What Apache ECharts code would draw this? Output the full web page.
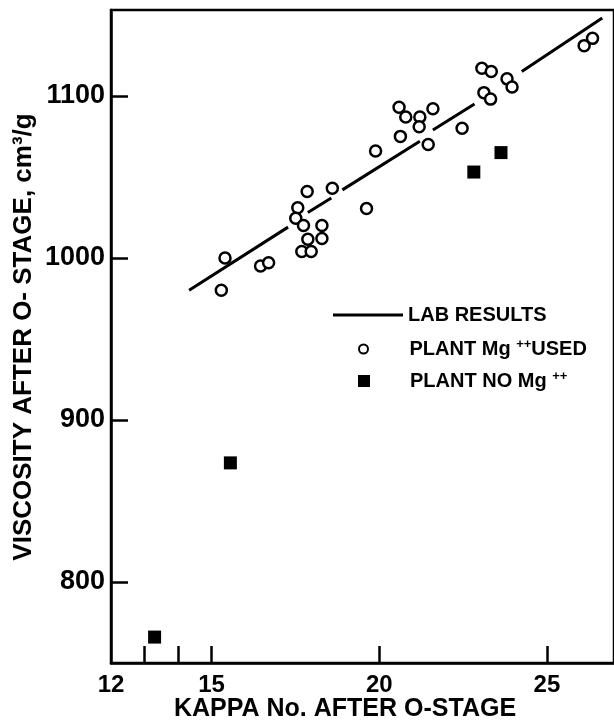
<!DOCTYPE html>
<html>
<head>
<meta charset="utf-8" />
<title>Viscosity after O-stage</title>
<script src="https://cdn.jsdelivr.net/npm/echarts@6/dist/echarts.min.js"></script>
<style>
  html, body { margin: 0; padding: 0; background: #fff; }
  #main { width: 614px; height: 722px; }
</style>
</head>
<body>
<div id="main"></div>
<script type="text/javascript">
// values (kappa no. / viscosity cm3/g)
var plantMgKappa = [15.40, 15.29, 16.46, 16.70, 17.85, 18.60, 17.57, 17.51, 17.74, 18.29,
                    17.87, 18.29, 17.69, 17.97, 19.62, 19.89, 20.63, 21.46, 20.59, 20.79,
                    21.21, 21.19, 21.60, 22.47, 23.06, 23.34, 23.12, 23.32, 23.81, 23.96,
                    26.11, 26.36];
var plantMgVisc  = [1000, 980, 995, 997, 1041, 1043, 1031, 1024.5, 1020, 1020,
                    1011.5, 1012, 1004, 1004, 1030.5, 1066, 1075, 1070, 1093, 1087,
                    1087, 1081, 1092, 1080, 1117, 1115, 1102, 1098, 1110.5, 1105.5,
                    1131, 1135.5];
var plantNoMgKappa = [13.30, 15.56, 22.82, 23.63];
var plantNoMgVisc  = [766, 873.5, 1053, 1065];
// lab line, drawn as pieces (start/end pairs) with breaks where it runs through the circles
var labKappa = [14.33, 17.28, 17.87, 18.57, 18.90, 21.21, 21.60, 22.84, 24.25, 26.65];
var labVisc  = [980, 1019, 1028, 1037, 1042, 1072, 1079, 1095, 1115, 1148];

var xTicks = [13, 14, 15, 20, 25];
var xLabels = [12, 15, 20, 25];
var yTicks = [800, 900, 1000, 1100];

var FONT = "'Liberation Sans', Arial, sans-serif";

function pairs(xs, ys) {
    var res = [];
    for (var i = 0; i < xs.length; i++) res.push([xs[i], ys[i]]);
    return res;
}

var labData = [];
for (var i = 0; i < labKappa.length; i += 2) {
    labData.push([labKappa[i], labVisc[i]]);
    labData.push([labKappa[i + 1], labVisc[i + 1]]);
    if (i + 2 < labKappa.length) labData.push([labKappa[i + 1], '-']);
}

var myChart = echarts.init(document.getElementById('main'), null, { renderer: 'canvas' });

var legendText = { fontFamily: FONT, fontSize: 20, fontWeight: 'bold', color: '#000',
    rich: {
        t: { fontFamily: FONT, fontSize: 20, fontWeight: 'bold', color: '#000', lineHeight: 22 },
        s: { fontFamily: FONT, fontSize: 13, fontWeight: 'bold', color: '#000', lineHeight: 12, verticalAlign: 'top' }
    }
};
function legendFmt(name) {
    if (name === 'PLANT Mg++USED') return '{t|PLANT Mg }{s|++}{t|USED}';
    if (name === 'PLANT NO Mg++') return '{t|PLANT NO Mg }{s|++}';
    return '{t|' + name + '}';
}

option = {
    backgroundColor: '#fff',
    animation: false,
    grid: {
        left: 111,
        right: -3,
        top: 10,
        bottom: 59,
        show: true,
        borderColor: '#000',
        borderWidth: 2.5
    },
    legend: [
        {
            data: [{ name: 'LAB RESULTS', icon: 'rect' }],
            left: 333, top: 305, padding: 0,
            itemWidth: 70, itemHeight: 3,
            selectedMode: false,
            formatter: legendFmt,
            textStyle: legendText
        },
        {
            data: [{ name: 'PLANT Mg++USED', icon: 'circle' }],
            left: 358, top: 338, padding: 0,
            itemWidth: 82, itemHeight: 9,
            selectedMode: false,
            formatter: legendFmt,
            textStyle: legendText
        },
        {
            data: [{ name: 'PLANT NO Mg++', icon: 'path://M0,0L10,0L10,10L0,10Z' }],
            left: 358, top: 370, padding: 0,
            itemWidth: 82, itemHeight: 12,
            selectedMode: false,
            formatter: legendFmt,
            textStyle: legendText
        }
    ],
    xAxis: {
        type: 'value',
        min: 12,
        max: 27,
        splitLine: { show: false },
        axisLine: { show: true, onZero: false, lineStyle: { color: '#000', width: 2.5 } },
        axisTick: { show: true, inside: true, length: 17, customValues: xTicks,
            lineStyle: { color: '#000', width: 2.5 } },
        axisLabel: { customValues: xLabels, margin: 10, color: '#000',
            fontFamily: FONT, fontSize: 24, fontWeight: 'bold',
            formatter: function (v) { return String(v); } }
    },
    yAxis: {
        type: 'value',
        min: 750,
        max: 1153,
        splitLine: { show: false },
        axisLine: { show: true, onZero: false, lineStyle: { color: '#000', width: 2.5 } },
        axisTick: { show: true, inside: true, length: 17, customValues: yTicks,
            lineStyle: { color: '#000', width: 2.5 } },
        axisLabel: { customValues: yTicks, margin: 6, color: '#000',
            fontFamily: FONT, fontSize: 27, fontWeight: 'bold',
            formatter: function (v) { return String(v); } }
    },
    graphic: [
        {
            type: 'text',
            x: 345, y: 709,
            style: { text: 'KAPPA No. AFTER O-STAGE', fontFamily: FONT, fontSize: 25, fontWeight: 'bold',
                fill: '#000', align: 'center', verticalAlign: 'middle' }
        },
        {
            type: 'text',
            x: 24, y: 337,
            rotation: Math.PI / 2,
            style: { text: 'VISCOSITY AFTER O- STAGE, cm\u00b3/g', fontFamily: FONT, fontSize: 26, fontWeight: 'bold',
                fill: '#000', align: 'center', verticalAlign: 'middle' }
        }
    ],
    series: [
        {
            name: 'LAB RESULTS',
            type: 'line',
            data: labData,
            showSymbol: false,
            symbol: 'none',
            connectNulls: false,
            lineStyle: { color: '#000', width: 3 },
            itemStyle: { color: '#000' },
            z: 3
        },
        {
            name: 'PLANT Mg++USED',
            type: 'scatter',
            data: pairs(plantMgKappa, plantMgVisc),
            symbol: 'circle',
            symbolSize: 11,
            itemStyle: { color: '#fff', borderColor: '#000', borderWidth: 2.5, opacity: 1 },
            z: 4
        },
        {
            name: 'PLANT NO Mg++',
            type: 'scatter',
            data: pairs(plantNoMgKappa, plantNoMgVisc),
            symbol: 'rect',
            symbolSize: 13,
            itemStyle: { color: '#000', opacity: 1 },
            z: 4
        }
    ]
};
myChart.setOption(option);
</script>
</body>
</html>
